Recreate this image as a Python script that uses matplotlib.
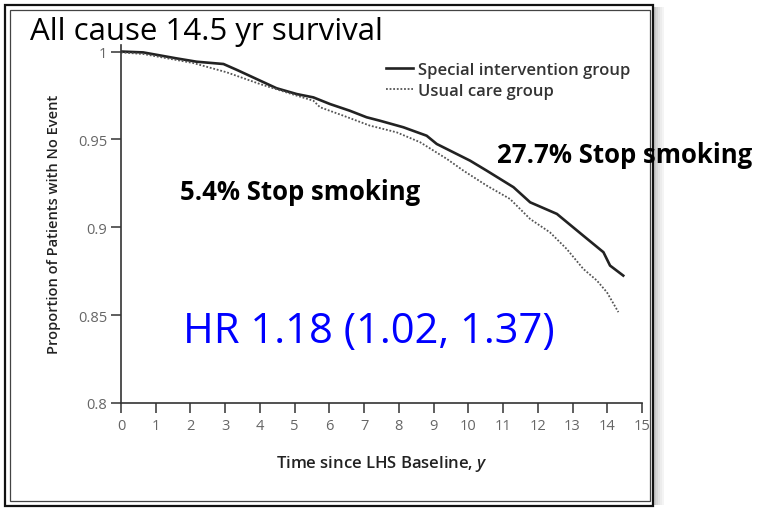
import matplotlib
matplotlib.use("Agg")
import matplotlib.pyplot as plt
from matplotlib.patches import Rectangle

# ---- data ----
special_t = [0.0, 0.64, 1.60, 2.18, 2.95, 3.33, 3.90, 4.48, 5.06, 5.54, 6.02, 6.59, 7.07, 7.46,
             8.13, 8.80, 9.09, 10.05, 10.53, 11.30, 11.78, 12.55, 13.31, 13.89, 14.08, 14.46]
special_s = [1.0, 0.9995, 0.9961, 0.9942, 0.9929, 0.9896, 0.9844, 0.9791, 0.9758, 0.9739, 0.9701,
             0.9663, 0.9626, 0.9606, 0.9569, 0.9521, 0.9474, 0.9379, 0.9322, 0.9228, 0.9142,
             0.9076, 0.8952, 0.8858, 0.8782, 0.8725]
usual_t = [0.0, 0.64, 2.07, 3.04, 4.00, 5.06, 5.54, 5.73, 6.40, 7.17, 7.36, 7.94, 8.61, 9.38,
           9.86, 10.53, 11.20, 11.78, 12.35, 12.83, 13.31, 13.70, 13.99, 14.32]
usual_s = [0.9995, 0.9986, 0.9935, 0.9882, 0.9815, 0.9749, 0.9720, 0.9683, 0.9635, 0.9578,
           0.9569, 0.9540, 0.9484, 0.9389, 0.9322, 0.9237, 0.9161, 0.9047, 0.8971, 0.8877,
           0.8763, 0.8697, 0.8630, 0.8517]
x_ticks = list(range(0, 16))
y_ticks = [0.8, 0.85, 0.9, 0.95, 1.0]
y_tick_labels = ["0.8", "0.85", "0.9", "0.95", "1"]
series_labels = ["Special intervention group", "Usual care group"]
title_text = "All cause 14.5 yr survival"
note_left = "5.4% Stop smoking"
note_right = "27.7% Stop smoking"
hr_text = "HR 1.18 (1.02, 1.37)"

plt.rcParams['mathtext.fontset'] = 'custom'
plt.rcParams['mathtext.it'] = 'Open Sans:italic:semibold'

W, H = 759, 510
fig = plt.figure(figsize=(W / 100, H / 100), dpi=100)
fig.patch.set_facecolor("white")

def fx(px):
    return px / W

def fy(py):
    return 1 - py / H

# frame with soft shadow on the right
for i, c in enumerate(["#c8c8c8", "#d6d6d6", "#e2e2e2", "#ececec", "#f4f4f4"]):
    fig.patches.append(Rectangle((fx(654 + 2 * i), fy(506)), fx(2), 498 / H, transform=fig.transFigure,
                                 facecolor=c, edgecolor="none", zorder=0))
fig.patches.append(Rectangle((fx(5), fy(507)), fx(648), 501 / H, transform=fig.transFigure,
                             facecolor="white", edgecolor="#111111", lw=1.6, zorder=0.5))
fig.patches.append(Rectangle((fx(10), fy(502)), fx(640), 491 / H, transform=fig.transFigure,
                             facecolor="none", edgecolor="#444444", lw=0.9, zorder=0.6))

ax_left, ax_right = 121, 642
ax_top, ax_bot = 45.5, 404
ax = fig.add_axes([fx(ax_left), fy(ax_bot), (ax_right - ax_left) / W, (ax_bot - ax_top) / H])
ax.set_zorder(2)
ax.set_facecolor("none")
ax.set_xlim(0, 15)
ax.set_ylim(0.8, 1.004)

l1, = ax.plot(special_t, special_s, color="#222222", lw=1.9, label=series_labels[0])
l2, = ax.plot(usual_t, usual_s, color="#555555", lw=1.3, linestyle=(0, (1, 1)), label=series_labels[1])

for s in ["top", "right"]:
    ax.spines[s].set_visible(False)
for s in ["left", "bottom"]:
    ax.spines[s].set_color("#333333")
    ax.spines[s].set_linewidth(1.2)

ax.set_xticks(x_ticks)
ax.set_yticks(y_ticks)
ax.set_yticklabels(y_tick_labels)
ax.tick_params(axis="both", direction="out", length=7, width=1.1, color="#333333",
               labelcolor="#666666", labelsize=10.5)
ax.tick_params(axis="x", pad=4)
ax.tick_params(axis="y", pad=3)
for lab in ax.get_xticklabels() + ax.get_yticklabels():
    lab.set_fontfamily("Open Sans")

ax.set_ylabel("Proportion of Patients with No Event", fontfamily="Open Sans", fontweight="semibold",
              fontsize=10.5, color="#222222", labelpad=12)
ax.set_xlabel("Time since LHS Baseline, $y$", fontfamily="Open Sans", fontweight="semibold",
              fontsize=12, color="#222222", labelpad=14)

leg = ax.legend(handles=[l1, l2], loc="upper left", bbox_to_anchor=(fx(386), fy(63)),
                bbox_transform=fig.transFigure, frameon=False, handlelength=1.6,
                handletextpad=0.35, labelspacing=0.3, borderpad=0, borderaxespad=0,
                prop={"family": "Open Sans", "weight": "semibold", "size": 12})
for t in leg.get_texts():
    t.set_color("#333333")

fam = ["Open Sans", "DejaVu Sans"]
fig.text(fx(30), fy(40), title_text, fontsize=22.5, family=fam, color="black", va="baseline", zorder=5)
fig.text(fx(180), fy(200), note_left, fontsize=18.5, family=fam, fontweight="bold", color="black",
         va="baseline", zorder=5)
fig.text(fx(497), fy(163), note_right, fontsize=18.5, family=fam, fontweight="bold", color="black",
         va="baseline", zorder=5)
fig.text(fx(183), fy(343), hr_text, fontsize=30, family=fam, color="#0000ff", va="baseline", zorder=5)

fig.savefig("out.png", dpi=100)
